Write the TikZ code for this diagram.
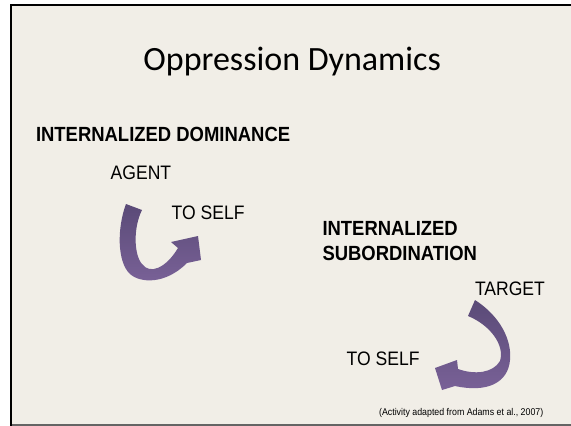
\documentclass[tikz,border=0pt]{standalone}
\usepackage{fontspec}
\newfontfamily\bodyfont[FakeStretch=0.9]{Liberation Sans}
\newfontfamily\titlefont{Carlito}
\definecolor{slidebg}{RGB}{241,238,231}
\definecolor{arrowdark}{RGB}{90,74,119}
\definecolor{arrowlight}{RGB}{122,98,152}
\definecolor{framegray}{RGB}{100,100,100}
\begin{document}
\begin{tikzpicture}[x=1pt,y=-1pt,
  lbl/.style={inner sep=0pt,outer sep=0pt,text=black},
  headlbl/.style={lbl,font=\bodyfont\bfseries\fontsize{20.5}{24}\selectfont},
  plainlbl/.style={lbl,font=\bodyfont\fontsize{19.5}{23}\selectfont},
  curvearrow/.style={top color=arrowdark,bottom color=arrowlight,draw=none}]
\useasboundingbox (0,0) rectangle (571,426);
\fill[white] (0,0) rectangle (571,426);
\fill[slidebg] (11,5) rectangle (571,424);
\draw[framegray,line width=2pt] (11,424.5) -- (571,424.5);
\draw[black,line width=2pt] (10,5) -- (571,5);
\draw[black,line width=2pt] (11,4) -- (11,425.5);

\node[lbl,anchor=base,font=\titlefont\fontsize{34}{40}\selectfont] (title) at (292.2,70) {Oppression Dynamics};

\node[headlbl,anchor=base west] (dom) at (36,141.7) {INTERNALIZED DOMINANCE};
\node[plainlbl,anchor=base west] (agent) at (110.7,179) {AGENT};
\node[plainlbl,anchor=base west] (selfA) at (171.7,219.3) {TO SELF};

\node[headlbl,anchor=base west] (subA) at (322.5,235) {INTERNALIZED};
\node[headlbl,anchor=base west] (subB) at (322.5,260) {SUBORDINATION};
\node[plainlbl,anchor=base west] (target) at (475,295) {TARGET};
\node[plainlbl,anchor=base west] (selfB) at (346.7,365) {TO SELF};

\node[lbl,anchor=base east,font=\bodyfont\fontsize{9.8}{12}\selectfont] (cite) at (543.3,415) {(Activity adapted from Adams et al., 2007)};

% curved arrow under AGENT
\path[curvearrow] (126,204)
  .. controls (117,228) and (117,262) .. (130,274)
  .. controls (140,283) and (165,285) .. (187,263)
  -- (201,260) -- (198,236) -- (171,242) -- (178,248)
  .. controls (166,268) and (150,275) .. (142,264)
  .. controls (134,255) and (133,228) .. (142,210)
  -- cycle;

% curved arrow under TARGET
\path[curvearrow] (475,300)
  .. controls (500,316) and (512,340) .. (510,360)
  .. controls (508,383) and (487,393) .. (455,386)
  -- (442,390) -- (435,368) -- (457,360) -- (458,369)
  .. controls (475,375) and (493,373) .. (500,361)
  .. controls (505,345) and (490,325) .. (468,316)
  -- cycle;
\end{tikzpicture}
\end{document}
